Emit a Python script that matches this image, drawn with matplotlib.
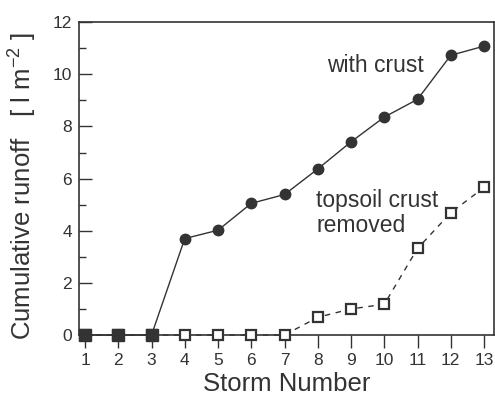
import numpy as np
import matplotlib
matplotlib.use("Agg")
import matplotlib.pyplot as plt
from matplotlib.ticker import MultipleLocator

plt.rcParams['font.family'] = ['Liberation Sans', 'DejaVu Sans']

storms = [1, 2, 3, 4, 5, 6, 7, 8, 9, 10, 11, 12, 13]
with_crust = [0, 0, 0, 3.70, 4.02, 5.05, 5.39, 6.37, 7.41, 8.36, 9.04, 10.73, 11.08]
crust_removed = [0, 0, 0, 0, 0, 0, 0, 0.68, 1.0, 1.18, 3.32, 4.69, 5.66]

col = '#333333'

fig = plt.figure(figsize=(4.95, 3.96), dpi=100)
ax = fig.add_axes([0.159, 0.154, 0.839, 0.79])

ax.plot(storms, crust_removed, ls=(0, (4, 4)), color=col, lw=1,
        marker='s', ms=6.5, mfc='white', mec=col, mew=1.6, clip_on=False, zorder=3)
ax.plot(storms, with_crust, '-', color=col, lw=1,
        marker='o', ms=7.5, mfc=col, mec=col, clip_on=False, zorder=4)

# where both are zero the markers overlap and read as filled squares
x = np.array(storms)
both = (np.array(with_crust) == 0) & (np.array(crust_removed) == 0)
ax.plot(x[both], np.array(crust_removed)[both], 's', ms=8, color=col,
        clip_on=False, zorder=5, ls='none')

ax.set_xlim(0.81, 13.3)
ax.set_ylim(0, 12)
ax.set_xticks(storms)
ax.yaxis.set_major_locator(MultipleLocator(2))
ax.yaxis.set_minor_locator(MultipleLocator(1))

ax.tick_params(axis='y', which='major', direction='in', length=9, width=1,
               colors=col, labelsize=12.5, pad=5)
ax.tick_params(axis='y', which='minor', direction='in', length=5, width=1, colors=col)
ax.tick_params(axis='x', direction='out', length=9, width=1, colors=col,
               labelsize=12.5, pad=4)
for s in ax.spines.values():
    s.set_color(col)
    s.set_linewidth(1.2)

ax.set_xlabel('Storm Number', fontsize=18.5, color=col, labelpad=3)
ax.set_ylabel('Cumulative runoff   [ l m$^{\\mathregular{-2}}$ ]', fontsize=18.5,
              color=col)
ax.yaxis.set_label_coords(-0.097, 0.476)

ax.text(9.72, 10.34, 'with crust', fontsize=16.5, color=col, ha='center', va='center')
ax.text(7.95, 4.67, 'topsoil crust\nremoved', fontsize=16.5, color=col, ha='left',
        va='center', linespacing=1.1)

fig.savefig('out.png', dpi=100)
